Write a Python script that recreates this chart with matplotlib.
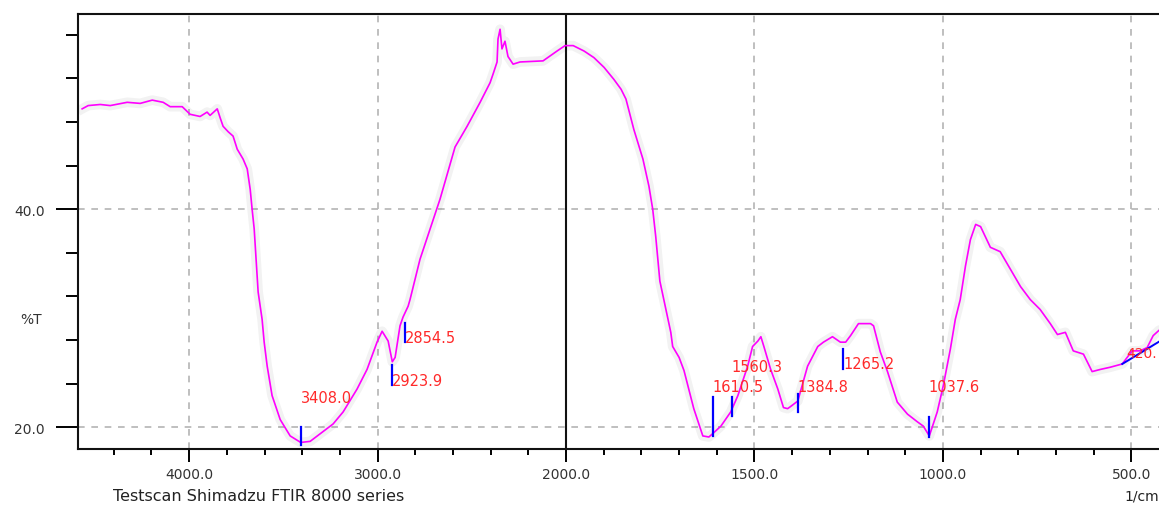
import numpy as np
import matplotlib
matplotlib.use("Agg")
import matplotlib.pyplot as plt
from matplotlib.ticker import FixedLocator, FixedFormatter

# FTIR spectrum (wavenumber 1/cm, %T)
wavenumber = [4568, 4536, 4472, 4419, 4329, 4260, 4196, 4138, 4101, 4037,
              3995, 3942, 3905, 3889, 3851, 3836, 3820, 3793, 3767, 3745,
              3714, 3692, 3676, 3666, 3655, 3645, 3634, 3613, 3602, 3586,
              3560, 3517, 3464, 3408, 3358, 3305, 3236, 3183, 3109, 3056,
              3003, 2976, 2944, 2922, 2907, 2881, 2865, 2838, 2828, 2775,
              2669, 2589, 2525, 2456, 2403, 2387, 2366, 2361, 2350, 2340,
              2324, 2308, 2281, 2244, 2122, 2048, 2005, 1995, 1981, 1952,
              1926, 1899, 1873, 1854, 1841, 1820, 1796, 1780, 1770, 1762,
              1751, 1735, 1722, 1717, 1700, 1687, 1661, 1637, 1621, 1611,
              1589, 1563, 1544, 1518, 1505, 1491, 1483, 1475, 1457, 1438,
              1423, 1412, 1404, 1385, 1359, 1332, 1317, 1293, 1272, 1258,
              1245, 1224, 1192, 1184, 1166, 1147, 1121, 1094, 1068, 1052,
              1036, 1015, 999, 980, 967, 954, 940, 927, 913, 900,
              874, 848, 821, 794, 768, 742, 715, 696, 675, 654,
              627, 604, 582, 556, 524, 498, 477, 458, 442, 426, 400]
transmittance = [49.2, 49.5, 49.6, 49.5, 49.8, 49.7, 50.0, 49.8, 49.4, 49.4,
                 48.7, 48.5, 48.9, 48.6, 49.2, 48.4, 47.6, 47.1, 46.7, 45.5,
                 44.6, 43.7, 41.8, 40.0, 38.2, 35.4, 32.4, 29.9, 27.8, 25.6,
                 22.9, 20.7, 19.2, 18.6, 18.7, 19.4, 20.3, 21.4, 23.5, 25.3,
                 27.8, 28.8, 27.9, 26.0, 26.4, 29.3, 30.1, 31.1, 31.7, 35.4,
                 40.9, 45.7, 47.6, 49.8, 51.6, 52.4, 53.5, 55.6, 56.5, 54.7,
                 55.4, 54.0, 53.3, 53.5, 53.6, 54.5, 55.0, 55.0, 55.0, 54.5,
                 53.9, 53.0, 51.9, 51.0, 50.1, 47.3, 44.6, 42.1, 40.0, 37.5,
                 33.4, 30.8, 28.7, 27.4, 26.4, 25.2, 21.7, 19.2, 19.1, 19.4,
                 20.1, 21.4, 22.9, 25.6, 27.4, 27.9, 28.3, 27.4, 25.3, 23.5,
                 21.8, 21.7, 21.9, 22.4, 25.6, 27.4, 27.8, 28.3, 27.8, 27.8,
                 28.4, 29.5, 29.5, 29.3, 26.9, 25.1, 22.3, 21.2, 20.5, 20.1,
                 19.2, 21.4, 23.8, 27.2, 29.9, 31.7, 34.8, 37.2, 38.6, 38.4,
                 36.5, 36.1, 34.5, 32.9, 31.7, 30.8, 29.5, 28.5, 28.7, 27.0,
                 26.7, 25.1, 25.3, 25.5, 25.8, 27.0, 27.0, 27.3, 28.4, 28.9, 29.2]

# picked peaks: position, text, marker span (%T) and label height (%T)
peak_wn = [3408.0, 2923.9, 2854.5, 1610.5, 1560.3, 1384.8, 1265.2, 1037.6]
peak_text = ["3408.0", "2923.9", "2854.5", "1610.5", "1560.3", "1384.8",
             "1265.2", "1037.6"]
marker_low = [18.4, 23.9, 27.8, 19.2, 21.0, 21.4, 25.3, 19.1]
marker_high = [20.0, 25.7, 29.6, 22.8, 22.8, 23.0, 27.2, 20.9]
label_t = [22.7, 24.3, 28.2, 23.7, 25.6, 23.7, 25.8, 23.7]

# last peak sits at the right edge, only its baseline and the start of its text show
edge_text = "420."
edge_text_wn = 512
edge_text_t = 26.8
edge_base_wn = [524, 400]
edge_base_t = [25.8, 28.4]

x_major = [4000, 3000, 2000, 1500, 1000, 500]
x_minor = [4400, 4200, 3800, 3600, 3400, 3200, 2800, 2600, 2400, 2200,
           1900, 1800, 1700, 1600, 1400, 1300, 1200, 1100, 900, 800, 700, 600, 400]
y_major = [20, 40]
y_minor = [24, 28, 32, 36, 44, 48, 52, 56]


# Shimadzu style axis: scale doubles below 2000 1/cm
def fwd(w):
    w = np.asarray(w, dtype=float)
    return np.where(w >= 2000, w - 2000, 2 * (w - 2000))


def inv(u):
    u = np.asarray(u, dtype=float)
    return np.where(u >= 0, u + 2000, u / 2 + 2000)


W, H = 1159, 506
fig = plt.figure(figsize=(W / 100, H / 100), dpi=100)
ax = fig.add_axes([78 / W, 1 - 450 / H, (1169 - 78) / W, 435 / H])
ax.set_xscale("function", functions=(fwd, inv))
ax.set_xlim(4590, 400)
ax.set_ylim(18.0, 57.9)

# soft halo like the blurry print, then the trace
ax.plot(wavenumber, transmittance, color="#000000", lw=7, alpha=0.05,
        solid_joinstyle="round", zorder=2)
ax.plot(wavenumber, transmittance, color="#ff00ff", lw=1.2, zorder=3)

for wn, lo, hi, t, txt in zip(peak_wn, marker_low, marker_high, label_t, peak_text):
    ax.plot([wn, wn], [lo, hi], color="#0000ff", lw=1.6, zorder=4)
    ax.text(wn, t, txt, color="#ff2a2a", fontsize=10.5, ha="left", va="center",
            zorder=5)

ax.plot(edge_base_wn, edge_base_t, color="#0000ff", lw=1.4, zorder=4)
ax.text(edge_text_wn, edge_text_t, edge_text, color="#ff2a2a", fontsize=10,
        ha="left", va="center", zorder=5)

# grid
for xv in [4000, 3000, 1500, 1000, 500]:
    ax.axvline(xv, color="#b4b4b4", lw=1.2, ls=(0, (4, 4)), zorder=1)
for yv in y_major:
    ax.axhline(yv, color="#b4b4b4", lw=1.2, ls=(0, (4, 4)), zorder=1)
ax.axvline(2000, color="#111111", lw=1.5, zorder=2)

ax.xaxis.set_major_locator(FixedLocator(x_major))
ax.xaxis.set_major_formatter(FixedFormatter([f"{v:.1f}" for v in x_major]))
ax.xaxis.set_minor_locator(FixedLocator(x_minor))
ax.yaxis.set_major_locator(FixedLocator(y_major))
ax.yaxis.set_major_formatter(FixedFormatter([f"{v:.1f}" for v in y_major]))
ax.yaxis.set_minor_locator(FixedLocator(y_minor))

ax.tick_params(axis="x", which="major", direction="out", length=9, width=1.4,
               pad=4, labelsize=10, labelcolor="#333333")
ax.tick_params(axis="x", which="minor", direction="out", length=4, width=1.4)
ax.tick_params(axis="y", which="major", direction="out", length=16, width=1.4,
               pad=8, labelsize=10, labelcolor="#333333")
ax.tick_params(axis="y", which="minor", direction="out", length=9, width=1.4)

for s in ["left", "top", "bottom", "right"]:
    ax.spines[s].set_linewidth(1.5)
    ax.spines[s].set_color("#111111")

fig.text(20 / W, 1 - 320 / H, "%T", fontsize=10, color="#333333", va="center")
fig.text(113 / W, 1 - 497 / H, "Testscan Shimadzu FTIR 8000 series",
         fontsize=11.5, color="#222222", va="center")
fig.text(1124 / W, 1 - 497 / H, "1/cm", fontsize=10, color="#222222",
         va="center")

fig.savefig("out.png", dpi=100)
